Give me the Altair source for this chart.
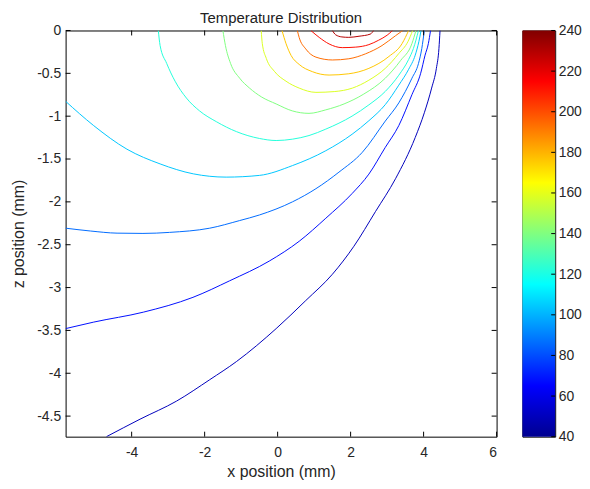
import altair as alt
import pandas as pd

# contour levels (temperature) and traced contour lines: x position (mm), z position (mm)
levels = [50, 68, 86, 104, 122, 140, 158, 176, 194, 212, 230]

x_230 = [1.50, 1.59, 1.76, 1.95, 2.23, 2.54, 2.63]
z_230 = [0, -0.05, -0.075, -0.08, -0.067, -0.042, 0]

x_212 = [0.91, 1.14, 1.41, 1.77, 2.14, 2.50, 2.77, 3.00, 3.15]
z_212 = [0, -0.081, -0.157, -0.20, -0.194, -0.165, -0.113, -0.055, 0]

x_194 = [0.54, 0.59, 0.77, 1.05, 1.50, 1.95, 2.41, 2.86, 3.23, 3.43]
z_194 = [0, -0.081, -0.215, -0.311, -0.344, -0.33, -0.272, -0.176, -0.061, 0]

x_176 = [0.12, 0.23, 0.37, 0.59, 0.95, 1.41, 1.95, 2.50, 3.05, 3.41, 3.59]
z_176 = [0, -0.153, -0.292, -0.396, -0.48, -0.52, -0.505, -0.442, -0.303, -0.153, 0]

x_158 = [-0.45, -0.42, -0.31, -0.09, 0.23, 0.59, 1.05, 1.55, 2.05, 2.50, 2.95, 3.32, 3.57, 3.70]
z_158 = [0, -0.153, -0.326, -0.476, -0.592, -0.672, -0.722, -0.713, -0.672, -0.58, -0.442, -0.269, -0.13, 0]

x_140 = [-1.50, -1.43, -1.29, -1.04, -0.77, -0.44, -0.04, 0.40, 0.86, 1.32, 1.82, 2.36, 2.95, 3.37, 3.68, 3.79]
z_140 = [0, -0.176, -0.384, -0.557, -0.672, -0.776, -0.857, -0.938, -0.967, -0.926, -0.857, -0.742, -0.557, -0.35, -0.153, 0]

x_122 = [-3.27, -3.22, -3.04, -2.81, -2.50, -2.14, -1.68, -1.13, -0.50, -0.04, 0.41, 0.86, 1.32, 2.04,
         2.50, 2.95, 3.32, 3.59, 3.72, 3.86]
z_122 = [0, -0.176, -0.384, -0.592, -0.788, -0.938, -1.064, -1.18, -1.26, -1.284, -1.268, -1.226, -1.151,
         -0.999, -0.868, -0.711, -0.522, -0.338, -0.211, 0]

x_104 = [-5.81, -5.04, -4.13, -3.22, -2.31, -1.41, -0.50, 0.41, 1.32, 2.04, 2.50, 2.95, 3.32, 3.59, 3.77, 3.87, 3.93]
z_104 = [-0.826, -1.11, -1.385, -1.557, -1.673, -1.711, -1.691, -1.576, -1.403, -1.211, -1.053, -0.865,
         -0.638, -0.453, -0.288, -0.13, 0]

x_86 = [-5.81, -5.13, -4.40, -3.69, -2.96, -1.86, -1.04, -0.50, 0.41, 1.05, 1.68, 2.32, 2.95, 3.32, 3.68, 3.86, 3.95, 4.02]
z_86 = [-2.307, -2.34, -2.365, -2.368, -2.356, -2.307, -2.218, -2.153, -1.999, -1.846, -1.653, -1.422,
        -1.057, -0.845, -0.557, -0.384, -0.211, 0]

x_68 = [-5.81, -5.04, -3.68, -2.32, -1.32, -0.23, 0.59, 1.32, 2.04, 2.50, 2.95, 3.32, 3.68, 3.92, 4.04, 4.13, 4.19]
z_68 = [-3.479, -3.403, -3.287, -3.114, -2.922, -2.691, -2.46, -2.191, -1.903, -1.676, -1.364, -1.11,
        -0.749, -0.499, -0.288, -0.153, 0]

x_50 = [-4.69, -3.77, -2.77, -1.86, -1.13, -0.04, 0.77, 1.50, 2.09, 2.68, 3.23, 3.77, 4.02, 4.22, 4.35, 4.42, 4.45]
z_50 = [-4.74, -4.536, -4.325, -4.075, -3.864, -3.479, -3.152, -2.845, -2.518, -2.114, -1.73, -1.249,
        -0.96, -0.672, -0.442, -0.211, 0]

x_ticks = [-4, -2, 0, 2, 4, 6]
z_ticks = [0, -0.5, -1, -1.5, -2, -2.5, -3, -3.5, -4, -4.5]
cbar_ticks = [40, 60, 80, 100, 120, 140, 160, 180, 200, 220, 240]

# jet colormap anchors
jet_domain = [40, 65, 90, 115, 140, 165, 190, 215, 240]
jet_colors = ["#000090", "#0000ff", "#0080ff", "#00ffff", "#80ff80", "#ffff00", "#ff8000", "#ff0000", "#800000"]

lines = {50: (x_50, z_50), 68: (x_68, z_68), 86: (x_86, z_86), 104: (x_104, z_104),
         122: (x_122, z_122), 140: (x_140, z_140), 158: (x_158, z_158), 176: (x_176, z_176),
         194: (x_194, z_194), 212: (x_212, z_212), 230: (x_230, z_230)}

rows = []
for lev in levels:
    xs, zs = lines[lev]
    for i, (xv, zv) in enumerate(zip(xs, zs)):
        rows.append({"level": lev, "x": xv, "z": zv, "seq": i})
df = pd.DataFrame(rows)

FONT = "Liberation Sans"
W, H = 434, 409
xscale = alt.Scale(domain=[-5.81, 6], nice=False, zero=False)
zscale = alt.Scale(domain=[-4.74, 0], nice=False, zero=False)
jet = alt.Scale(domain=jet_domain, range=jet_colors, interpolate="rgb")

xaxis = alt.Axis(values=x_ticks, ticks=False, domain=False, grid=False, labelPadding=9,
                 labelExpr="'' + datum.value", title="x position (mm)", titlePadding=4)
zaxis = alt.Axis(values=z_ticks, ticks=False, domain=False, grid=False, labelPadding=5,
                 labelExpr="'' + datum.value", title="z position (mm)", titlePadding=10)

contours = alt.Chart(df).mark_line(strokeWidth=1, clip=True, interpolate="monotone").encode(
    x=alt.X("x:Q", scale=xscale, axis=xaxis),
    y=alt.Y("z:Q", scale=zscale, axis=zaxis),
    color=alt.Color("level:Q", scale=jet, legend=None),
    detail="level:N",
    order="seq:Q",
)

xt = pd.DataFrame({"x": x_ticks})
zt = pd.DataFrame({"z": z_ticks})
tick_bottom = alt.Chart(xt).mark_rule(color="black").encode(
    x=alt.X("x:Q", scale=xscale, axis=xaxis), y=alt.value(H), y2=alt.value(H - 5))
tick_top = alt.Chart(xt).mark_rule(color="black").encode(
    x=alt.X("x:Q", scale=xscale, axis=xaxis), y=alt.value(0), y2=alt.value(5))
tick_left = alt.Chart(zt).mark_rule(color="black").encode(
    y=alt.Y("z:Q", scale=zscale, axis=zaxis), x=alt.value(0), x2=alt.value(5))
tick_right = alt.Chart(zt).mark_rule(color="black").encode(
    y=alt.Y("z:Q", scale=zscale, axis=zaxis), x=alt.value(W), x2=alt.value(W - 5))

main = alt.layer(contours, tick_bottom, tick_top, tick_left, tick_right).properties(
    width=W, height=H,
    title=alt.TitleParams("Temperature Distribution", fontSize=15, fontWeight="normal", font=FONT,
                          color="#222222", offset=-2, frame="group"),
)

stops = []
for d, c in zip(jet_domain, jet_colors):
    stops.append(alt.GradientStop(color=c, offset=(d - 40) / 200))
grad = alt.LinearGradient(gradient="linear", stops=stops, x1=0, x2=0, y1=1, y2=0)

cbscale = alt.Scale(domain=[40, 240], nice=False, zero=False)
cbaxis = alt.Axis(orient="right", values=cbar_ticks, ticks=False, domain=False, grid=False,
                  labelPadding=3, title=None)
cb_rect = alt.Chart(pd.DataFrame({"lo": [40], "hi": [240]})).mark_rect(color=grad).encode(
    y=alt.Y("lo:Q", scale=cbscale, axis=cbaxis),
    y2="hi:Q",
    x=alt.value(0), x2=alt.value(33),
)
cb_ticks = alt.Chart(pd.DataFrame({"lo": cbar_ticks})).mark_rule(color="black").encode(
    y=alt.Y("lo:Q", scale=cbscale, axis=cbaxis), x=alt.value(29), x2=alt.value(33))
cbar = alt.layer(cb_rect, cb_ticks).properties(width=33, height=H)

chart = alt.hconcat(main, cbar, spacing=26, bounds="flush").properties(
    padding={"left": 2, "top": 0, "right": 0, "bottom": 0}
).configure_view(stroke="black", strokeWidth=1).configure_axis(
    labelFont=FONT, titleFont=FONT, labelFontSize=14, titleFontSize=16, titleFontWeight="normal",
    labelColor="#262626", titleColor="#262626",
)

chart.save("out.html", embed_options={"renderer": "svg", "actions": False})
